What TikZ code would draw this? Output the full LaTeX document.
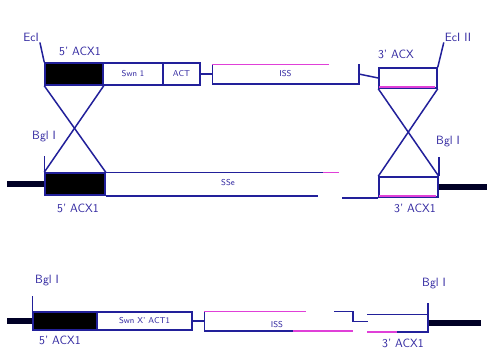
\documentclass[tikz,border=0pt]{standalone}
\usepackage{tikz}
\usetikzlibrary{positioning}
\definecolor{lnblue}{HTML}{22209A}
\definecolor{pinkc}{HTML}{E040D8}
\definecolor{txtblue}{HTML}{3026A0}
\begin{document}
\begin{tikzpicture}[x=1pt,y=-1pt,font=\sffamily\fontsize{12}{14}\selectfont,
  ln/.style={draw=lnblue,line width=1.5pt},
  pk/.style={draw=pinkc,line width=1.5pt},
  thk/.style={draw=black!85!blue,line width=6.5pt},
  blk/.style={draw=lnblue,fill=black,line width=1.5pt,minimum height=22pt,inner sep=0pt},
  wbox/.style={draw=lnblue,fill=white,line width=1.5pt,inner sep=0pt,
               text=txtblue,font=\sffamily\fontsize{8.5}{9}\selectfont},
  obox/.style={wbox,draw=none},
  lbl/.style={text=txtblue,inner sep=1pt},
]
\useasboundingbox[fill=white] (0,0) rectangle (487,362);

% top: targeting construct
\node[blk,minimum width=58pt] (t5) at (74,74) {};
\node[wbox,minimum width=60pt,minimum height=22pt] (tswn) at (133,74) {Swn 1};
\node[wbox,minimum width=37pt,minimum height=22pt] (tact) at (181.5,74) {ACT};
\node[obox,minimum width=145pt,minimum height=18pt] (tiss) at (285.5,74) {ISS};
\node[wbox,minimum width=58pt,minimum height=20pt] (t3) at (408,78) {};
\draw[ln] (tiss.north east) -- (tiss.south east) -- (tiss.south west) -- (tiss.north west);
\draw[pk] (tiss.north west) -- +(117,0);
\draw[pk] (t3.south west) ++(1,-2) -- +(56,0);
\draw[ln] (tact.east) -- (tiss.west);
\draw[ln] (tiss.east) -- (t3.west);

\node[lbl] (ecA) at (31,37) {EcI};
\node[lbl] (t5lab) at (80,51) {5' ACX1};
\node[lbl] (t3lab) at (396,54) {3' ACX};
\node[lbl] (ecB) at (458,37) {EcI II};
\draw[ln] (t5.north west) -- (ecA.south east);
\draw[ln] (t3.north east) -- (ecB.south west);

% middle: genomic locus
\node[blk,minimum width=60pt] (m5) at (75,184) {};
\node[wbox,minimum width=59pt,minimum height=20pt] (m3) at (408.5,187) {};
\node[lbl,font=\sffamily\fontsize{8.5}{9}\selectfont] (mlong) at (228,183) {SSe};
\draw[ln] (m5.north east) -- +(217,0);
\draw[pk] (m5.north east) ++(217,0) -- +(16,0);
\draw[ln] (m5.south east) -- +(212,0);
\draw[ln] (m3.south west) -- +(-36,0);
\draw[pk] (m3.south west) ++(1,-2) -- +(57,0);
\draw[thk] (m5.west) -- +(-37,0);
\draw[thk] (m3.east) -- +(49,0);

\draw[ln] (m5.north west) -- +(0,-16);
\draw[ln] (m3.north east) -- +(0,-19);
\node[lbl] (bglA) at (44,137) {Bgl I};
\node[lbl] (bglB) at (448,142) {Bgl I};
\node[lbl] (m5lab) at (78,208) {5' ACX1};
\node[lbl] (m3lab) at (415,208) {3' ACX1};

% crossovers
\draw[ln] (t5.south west) -- (m5.north east);
\draw[ln] (t5.south east) -- (m5.north west);
\draw[ln] (t3.south west) -- (m3.north east);
\draw[ln] (t3.south east) -- (m3.north west);

% bottom: replaced locus
\node[blk,minimum width=64pt,minimum height=18pt] (b5) at (65,321) {};
\node[wbox,minimum width=95pt,minimum height=18pt] (bswn) at (144.5,321) {Swn X' ACT1};
\node[obox,minimum width=147pt,minimum height=18pt] (biss) at (278.5,321) {};
\node[obox,minimum width=59pt,minimum height=16pt] (b3) at (397.5,323) {};
\node[lbl,font=\sffamily\fontsize{8.5}{9}\selectfont] (bisslab) at (277,325) {ISS};
\draw[ln] (biss.north west) -- (biss.south west) -- (biss.south east);
\draw[pk] (biss.north west) -- +(102,0);
\draw[ln] (biss.north east) -- +(-19,0);
\draw[ln] (biss.north east) -- +(0,10) -- +(15,10);
\draw[ln] (b3.north west) -- (b3.north east) -- (b3.south east) -- (b3.south west);
\draw[pk] (b3.south west) -- +(30,0);
\draw[pk] (biss.south east) -- +(-60,0);
\draw[ln] (bswn.east) -- (biss.west);
\draw[thk] (b5.west) -- +(-25,0);
\draw[thk] (b3.east) -- +(53,0);

\draw[ln] (b5.north west) -- +(0,-15);
\draw[ln] (b3.south east) -- +(0,-29);
\node[lbl] (bglC) at (47,281) {Bgl I};
\node[lbl] (bglD) at (434,284) {Bgl I};
\node[lbl] (b5lab) at (60,340) {5' ACX1};
\node[lbl] (b3lab) at (403,343) {3' ACX1};
\end{tikzpicture}
\end{document}
